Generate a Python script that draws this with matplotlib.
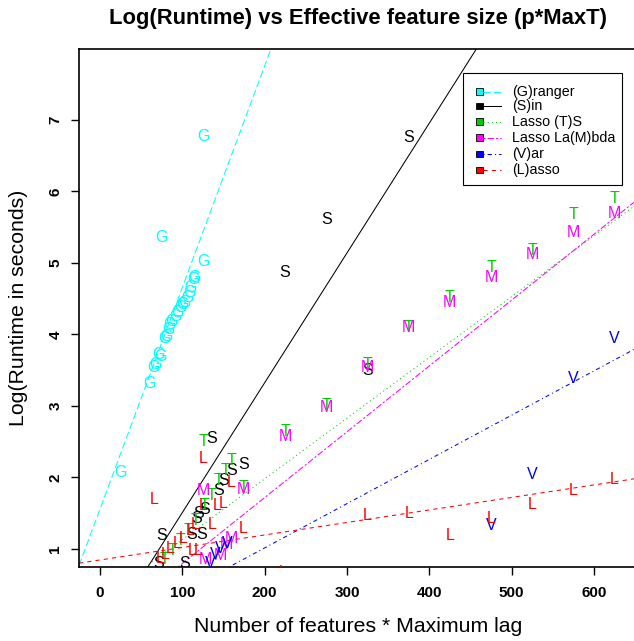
import matplotlib
matplotlib.use("Agg")
import matplotlib.pyplot as plt
import matplotlib.transforms as mtransforms
from matplotlib.patches import Rectangle
from matplotlib.lines import Line2D

plt.rcParams['font.family'] = ['Liberation Sans', 'DejaVu Sans']

# legend names, plotting letters, colours (old R palette) and line types
names = ["(G)ranger", "(S)in", "Lasso (T)S", "Lasso La(M)bda", "(V)ar", "(L)asso"]
letters = ["G", "S", "T", "M", "V", "L"]
colours = ["#00FFFF", "#000000", "#00CD00", "#FF00FF", "#0000FF", "#FF0000"]
dashes = [(7, 3), None, (1, 3), (2, 2, 6, 2), (1, 3, 4, 3), (4, 4)]

# fitted lines
intercepts = [1.555, -0.308, 0.28, -0.124, -0.223, 0.846]
slopes = [0.0310, 0.01816, 0.0085, 0.00921, 0.00619, 0.00175]

g_x = [24.4, 60.0, 64.8, 66.9, 70.9, 73.0, 79.0, 81.1, 83.1, 85.1, 87.2, 91.2,
       94.0, 97.3, 100.5, 103.3, 105.8, 108.2, 109.4, 113.1, 114.6, 125.6, 75.0, 125.6]
g_y = [2.08, 3.33, 3.55, 3.60, 3.74, 3.71, 3.96, 3.99, 4.09, 4.16, 4.20, 4.27,
       4.32, 4.39, 4.44, 4.46, 4.54, 4.61, 4.67, 4.78, 4.81, 5.04, 5.38, 6.78]

s_x = [70.9, 75.0, 103.3, 111.5, 117.5, 119.5, 123.6, 127.6, 135.8, 143.8, 149.8,
       160.0, 174.1, 224.8, 275.4, 324.5, 374.5]
s_y = [0.82, 1.20, 0.82, 1.22, 1.45, 1.52, 1.22, 1.57, 2.56, 1.83, 1.97,
       2.11, 2.20, 4.88, 5.63, 3.52, 6.77]

t_x = [79.0, 87.6, 97.3, 107.0, 115.5, 125.6, 127.6, 135.8, 143.8, 151.9, 160.0,
       174.1, 225, 275, 325, 375, 425, 475, 525, 575, 625]
t_y = [0.87, 0.99, 1.13, 1.27, 1.41, 2.52, 1.62, 1.76, 1.97, 2.11, 2.25,
       1.87, 2.66, 3.03, 3.60, 4.12, 4.53, 4.95, 5.19, 5.70, 5.92]

m_x = [125.6, 127.6, 145.8, 154.0, 160.0, 174.1, 225, 275, 325, 375, 425, 475, 525, 575, 625]
m_y = [1.83, 0.87, 0.92, 1.08, 1.17, 1.85, 2.59, 2.99, 3.55, 4.11, 4.46, 4.81, 5.13, 5.45, 5.71]

v_x = [133.8, 139.8, 145.8, 154.0, 475, 525, 575, 625]
v_y = [0.82, 0.94, 1.03, 1.10, 1.35, 2.06, 3.40, 3.96]

l_x = [65.7, 73.0, 79.1, 85.1, 93.3, 100.9, 109.4, 111.5, 115.5, 119.5, 125.6, 125.6,
       135.8, 141.8, 149.8, 160.0, 174.1, 222, 325, 375, 425, 475, 525, 575, 625]
l_y = [1.71, 0.89, 0.94, 1.03, 1.10, 1.17, 1.27, 0.99, 1.36, 0.99, 1.62, 2.28,
       1.36, 1.62, 1.66, 1.94, 1.31, 0.69, 1.49, 1.51, 1.21, 1.45, 1.64, 1.84, 1.99]

xs = [g_x, s_x, t_x, m_x, v_x, l_x]
ys = [g_y, s_y, t_y, m_y, v_y, l_y]

fig = plt.figure(figsize=(6.34, 6.41), dpi=100)
ax = fig.add_axes([79 / 634, 74 / 641, 558 / 634, 518 / 641])
ax.set_xlim(-25.4, 652.2)
ax.set_ylim(0.748, 7.993)

# letters centred on the points, like R's pch = "G"
fs_pt = 11.5
shift = mtransforms.offset_copy(ax.transData, fig=fig, y=-0.358 * fs_pt, units='points')
for k in range(len(letters)):
    for x, y in zip(xs[k], ys[k]):
        ax.text(x, y, letters[k], color=colours[k], fontsize=fs_pt, ha='center',
                va='baseline', transform=shift, clip_on=True)
    ls = '-' if dashes[k] is None else (0, dashes[k])
    ax.axline((0, intercepts[k]), slope=slopes[k], color=colours[k], lw=0.75, linestyle=ls)

ax.set_xticks([0, 100, 200, 300, 400, 500, 600])
ax.set_yticks([1, 2, 3, 4, 5, 6, 7])
ax.tick_params(direction='out', length=5.5, width=1, labelsize=11)
ax.tick_params(axis='x', pad=8.5)
ax.tick_params(axis='y', pad=6.5)
for lab in ax.get_xticklabels() + ax.get_yticklabels():
    lab.set_fontweight('bold')
for lab in ax.get_yticklabels():
    lab.set_rotation(90)
    lab.set_va('center')
for sp in ax.spines.values():
    sp.set_linewidth(1.2)

ax.set_title("Log(Runtime) vs Effective feature size (p*MaxT)", fontsize=15.8,
             fontweight='bold', pad=18)
ax.set_xlabel("Number of features * Maximum lag", fontsize=15.3, va='center')
ax.set_ylabel("Log(Runtime in seconds)", fontsize=15.3, va='center')
ax.xaxis.set_label_coords(0.5, -0.114)
ax.yaxis.set_label_coords(-0.108, 0.5)

# legend box drawn like R's legend(fill=..., lty=...)
def ax_x(px):
    return (px - 79) / 558

def ax_y(py):
    return (567 - py) / 518

ax.add_patch(Rectangle((ax_x(463), ax_y(185)), ax_x(622) - ax_x(463), ax_y(73) - ax_y(185),
                       transform=ax.transAxes, facecolor='white', edgecolor='black', lw=0.8))
rows = [91.7, 106, 121.7, 137.7, 154, 170]
for k, py in enumerate(rows):
    ax.add_patch(Rectangle((ax_x(476), ax_y(py + 3.3)), ax_x(483) - ax_x(476), ax_y(py - 3.3) - ax_y(py + 3.3),
                           transform=ax.transAxes, facecolor=colours[k], edgecolor='black', lw=0.6))
    ls = '-' if dashes[k] is None else (0, dashes[k])
    ax.add_line(Line2D([ax_x(483), ax_x(501)], [ax_y(py), ax_y(py)], transform=ax.transAxes,
                       color=colours[k], lw=0.75, linestyle=ls))
    ax.text(ax_x(512), ax_y(py), names[k], transform=ax.transAxes, fontsize=10.3,
            ha='left', va='center')

fig.savefig("out.png", dpi=100)
